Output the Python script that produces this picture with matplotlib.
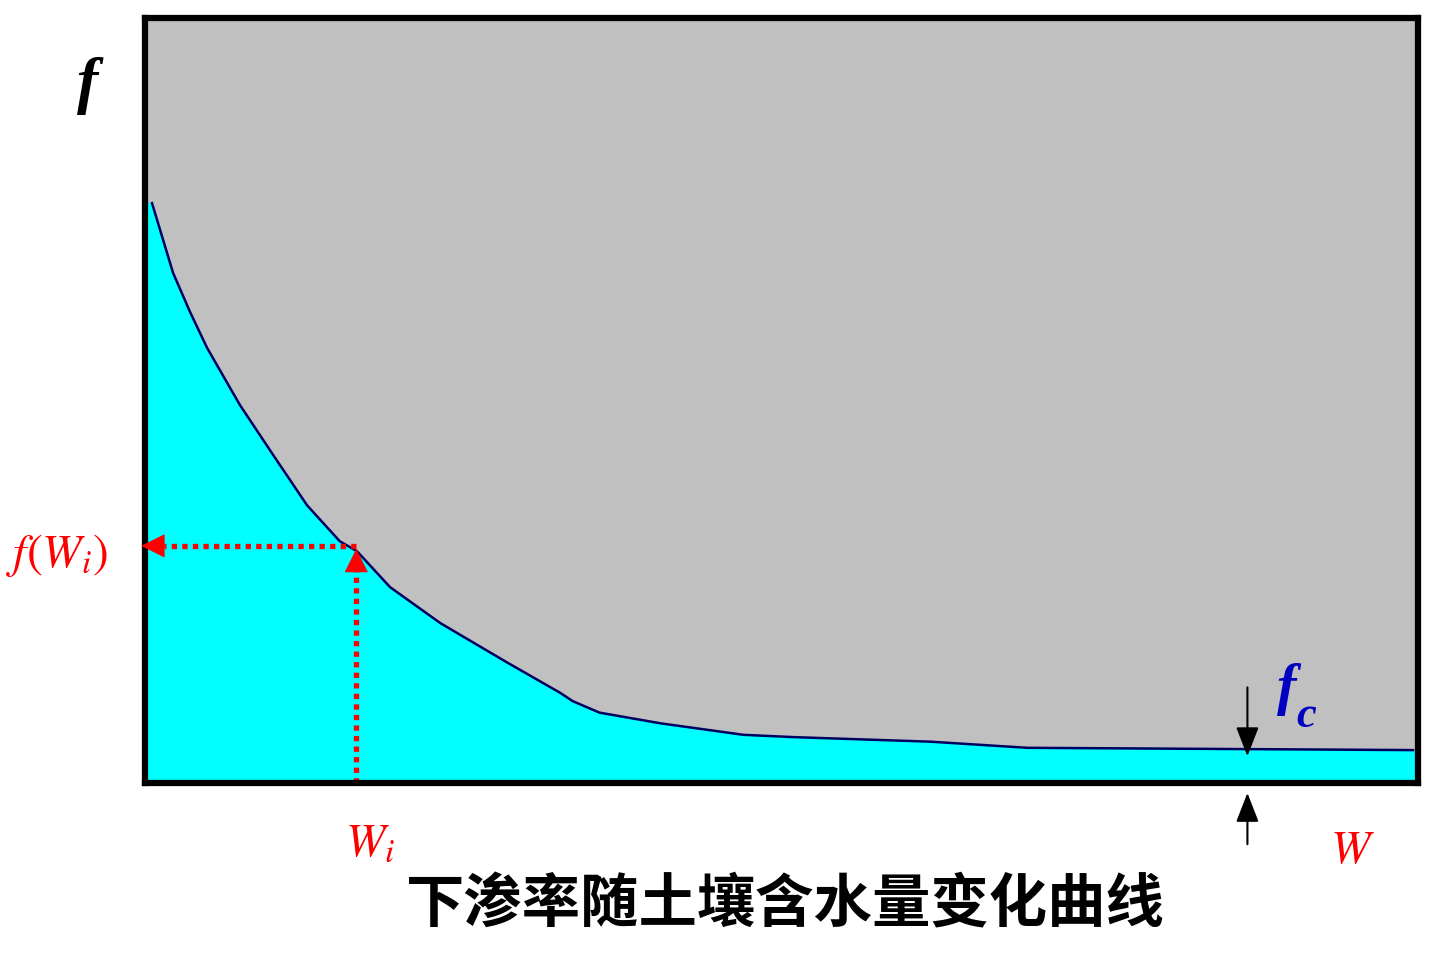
import matplotlib
matplotlib.use("Agg")
import matplotlib.pyplot as plt

plt.rcParams['font.family'] = ['Noto Sans CJK SC', 'DejaVu Sans']
plt.rcParams['mathtext.fontset'] = 'stix'

# infiltration curve (W, f)
W_vals = [0.55, 2.2, 3.53, 4.87, 7.46, 10.06, 12.73, 15.3, 16.65, 19.25, 23.2, 28.4,
          32.6, 33.6, 35.7, 40.5, 47.0, 50.9, 61.7, 69.3, 99.6]
f_vals = [75.8, 66.7, 61.6, 56.9, 49.4, 42.9, 36.3, 31.6, 30.3, 25.6, 20.9, 15.8,
          11.8, 10.7, 9.2, 7.8, 6.3, 6.0, 5.4, 4.6, 4.3]
Wi = 16.6
fWi = 31.0
fc = 4.3
Wc = 86.6

title = "下渗率随土壤含水量变化曲线"

fig = plt.figure(figsize=(14.45, 9.6), dpi=100)
ax = fig.add_axes([145/1445, 1-783/960, (1418-145)/1445, (783-18)/960])
ax.set_facecolor('#C0C0C0')
ax.set_xlim(0, 100)
ax.set_ylim(0, 100)
ax.fill_between([0.0] + W_vals + [100.0], 0, [f_vals[0]] + f_vals + [f_vals[-1]],
                color='#00FFFF', zorder=1)
ax.plot(W_vals, f_vals, color='#000060', lw=1.8, zorder=2)
for s in ax.spines.values():
    s.set_linewidth(4.5)
    s.set_color('black')
    s.set_zorder(6)
ax.set_xticks([])
ax.set_yticks([])

# dotted guide lines with arrows
ax.plot([Wi, 1.5], [fWi, fWi], color='red', lw=3.8, ls=(0, (1, 1)), zorder=3)
ax.plot([Wi, Wi], [0, fWi - 2.0], color='red', lw=3.8, ls=(0, (1, 1)), zorder=3)
ax.annotate('', xy=(-0.3, fWi), xytext=(1.6, fWi),
            arrowprops=dict(arrowstyle='-|>,head_length=0.8,head_width=0.4', color='red',
                            lw=0.5, mutation_scale=20, shrinkA=0, shrinkB=0),
            zorder=7, annotation_clip=False)
ax.annotate('', xy=(Wi, fWi - 0.4), xytext=(Wi, fWi - 2.6),
            arrowprops=dict(arrowstyle='-|>,head_length=0.8,head_width=0.4', color='red',
                            lw=0.5, mutation_scale=20, shrinkA=0, shrinkB=0),
            zorder=7, annotation_clip=False)

# fc arrows
ax.annotate('', xy=(Wc, fc - 0.8), xytext=(Wc, 12.5),
            arrowprops=dict(arrowstyle='-|>,head_length=0.9,head_width=0.35', color='black',
                            lw=1.5, mutation_scale=20, shrinkA=0, shrinkB=0),
            zorder=4, annotation_clip=False)
ax.annotate('', xy=(Wc, -1.3), xytext=(Wc, -8.0),
            arrowprops=dict(arrowstyle='-|>,head_length=0.9,head_width=0.35', color='black',
                            lw=1.5, mutation_scale=20, shrinkA=0, shrinkB=0),
            zorder=4, annotation_clip=False)

# labels
serif = ['Liberation Serif', 'DejaVu Serif']
fig.text(88/1445, 1-86/960, 'f', fontsize=46, color='black', ha='center', va='center',
         family=serif, style='italic', fontweight='bold')
fig.text(57/1445, 1-555/960, r'$f(W_i)$', fontsize=34, color='red', ha='center', va='center')
fig.text(370/1445, 1-842/960, r'$W_i$', fontsize=34, color='red', ha='center', va='center')
fig.text(1352/1445, 1-850/960, r'$W$', fontsize=34, color='red', ha='center', va='center')
fig.text(1287/1445, 1-690/960, 'f', fontsize=42, color='#0000C0', ha='center', va='center',
         family=serif, style='italic', fontweight='bold')
fig.text(1306/1445, 1-716/960, 'c', fontsize=32, color='#0000C0', ha='center', va='center',
         family=serif, style='italic', fontweight='bold')
fig.text(785/1445, 1-905/960, title, fontsize=42, color='black', ha='center', va='center',
         fontweight='bold')

fig.savefig('out.png', dpi=100)
